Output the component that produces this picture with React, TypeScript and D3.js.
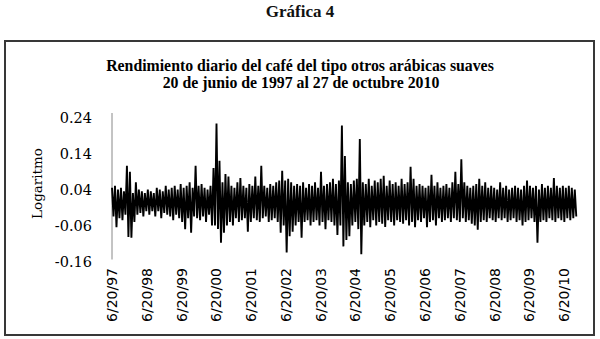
import React from "react";
import * as d3 from "d3";

// Serie: rendimiento diario (logaritmo), leído de la gráfica como máximos y mínimos
// por tramos iguales de tiempo entre la fecha inicial y la final.
const fechaInicio = "1997-06-20";
const fechaFin = "2010-10-27";

const altos: number[] = [
  0.045, 0.05, 0.04, 0.045, 0.035, 0.106, 0.089, 0.03, 0.06, 0.04,
  0.035, 0.03, 0.04, 0.035, 0.03, 0.045, 0.04, 0.035, 0.05, 0.04,
  0.045, 0.05, 0.04, 0.055, 0.045, 0.05, 0.06, 0.045, 0.106, 0.05,
  0.055, 0.045, 0.04, 0.05, 0.1, 0.223, 0.12, 0.06, 0.083, 0.076,
  0.05, 0.045, 0.06, 0.072, 0.05, 0.045, 0.055, 0.05, 0.076, 0.05,
  0.106, 0.05, 0.045, 0.055, 0.05, 0.06, 0.065, 0.092, 0.065, 0.07,
  0.06, 0.05, 0.055, 0.05, 0.06, 0.045, 0.055, 0.05, 0.06, 0.045,
  0.089, 0.05, 0.055, 0.06, 0.07, 0.055, 0.065, 0.218, 0.133, 0.06,
  0.055, 0.065, 0.07, 0.18, 0.06, 0.055, 0.07, 0.05, 0.065, 0.06,
  0.07, 0.078, 0.05, 0.065, 0.055, 0.06, 0.05, 0.07, 0.055, 0.06,
  0.103, 0.07, 0.05, 0.055, 0.05, 0.045, 0.05, 0.081, 0.05, 0.06,
  0.045, 0.05, 0.055, 0.045, 0.06, 0.089, 0.055, 0.124, 0.06, 0.05,
  0.045, 0.05, 0.055, 0.07, 0.05, 0.06, 0.045, 0.05, 0.045, 0.04,
  0.06, 0.045, 0.05, 0.04, 0.045, 0.05, 0.045, 0.04, 0.05, 0.065,
  0.05, 0.045, 0.05, 0.04, 0.055, 0.045, 0.05, 0.045, 0.072, 0.05,
  0.045, 0.05, 0.045, 0.05, 0.045, 0.04,
];

const bajos: number[] = [
  -0.035, -0.065, -0.04, -0.045, -0.03, -0.092, -0.094, -0.05, -0.03, -0.025,
  -0.035, -0.02, -0.03, -0.02, -0.035, -0.02, -0.04, -0.025, -0.03, -0.035,
  -0.045, -0.03, -0.04, -0.05, -0.07, -0.04, -0.08, -0.035, -0.04, -0.045,
  -0.035, -0.05, -0.03, -0.06, -0.06, -0.07, -0.108, -0.08, -0.06, -0.05,
  -0.06, -0.04, -0.05, -0.045, -0.04, -0.077, -0.05, -0.04, -0.045, -0.05,
  -0.04, -0.035, -0.05, -0.045, -0.04, -0.05, -0.08, -0.06, -0.135, -0.09,
  -0.077, -0.06, -0.05, -0.094, -0.05, -0.045, -0.06, -0.05, -0.045, -0.06,
  -0.05, -0.07, -0.045, -0.05, -0.06, -0.086, -0.06, -0.118, -0.1, -0.09,
  -0.06, -0.05, -0.07, -0.14, -0.06, -0.05, -0.065, -0.045, -0.06, -0.05,
  -0.055, -0.064, -0.045, -0.05, -0.06, -0.045, -0.05, -0.055, -0.045, -0.06,
  -0.05, -0.065, -0.045, -0.05, -0.04, -0.065, -0.05, -0.045, -0.06, -0.04,
  -0.05, -0.045, -0.04, -0.05, -0.04, -0.045, -0.05, -0.04, -0.05, -0.045,
  -0.055, -0.06, -0.072, -0.05, -0.045, -0.05, -0.04, -0.045, -0.05, -0.04,
  -0.045, -0.04, -0.05, -0.045, -0.04, -0.05, -0.045, -0.06, -0.05, -0.045,
  -0.04, -0.05, -0.108, -0.05, -0.045, -0.05, -0.04, -0.045, -0.05, -0.04,
  -0.045, -0.05, -0.04, -0.045, -0.04, -0.035,
];

const etiquetasX: string[] = [
  "6/20/97", "6/20/98", "6/20/99", "6/20/00", "6/20/01", "6/20/02", "6/20/03",
  "6/20/04", "6/20/05", "6/20/06", "6/20/07", "6/20/08", "6/20/09", "6/20/10",
];

const ticksY: number[] = [0.24, 0.14, 0.04, -0.06, -0.16];

const titulo = "Gráfica 4";
const subtitulo1 = "Rendimiento diario del café del tipo otros arábicas suaves";
const subtitulo2 = "20 de junio de 1997 al 27 de octubre 2010";
const tituloEjeY = "Logaritmo";

export default function App() {
  const W = 600;
  const H = 339;
  const parseISO = d3.timeParse("%Y-%m-%d");
  const parseTick = d3.timeParse("%m/%d/%y");
  const t0 = parseISO(fechaInicio) as Date;
  const t1 = parseISO(fechaFin) as Date;
  const tickDates = etiquetasX.map((s) => parseTick(s) as Date);

  const x = d3
    .scaleTime()
    .domain([tickDates[0], tickDates[tickDates.length - 1]])
    .range([112, 564]);
  const y = d3.scaleLinear().domain([-0.16, 0.24]).range([261.5, 117.5]);

  const n = altos.length;
  const total = 2 * n - 1;
  const pts: { t: Date; v: number }[] = [];
  for (let k = 0; k < 2 * n; k++) {
    const t = new Date(t0.getTime() + ((t1.getTime() - t0.getTime()) * k) / total);
    const v = k % 2 === 0 ? altos[k / 2] : bajos[(k - 1) / 2];
    pts.push({ t, v });
  }
  const line = d3
    .line<{ t: Date; v: number }>()
    .x((d) => x(d.t))
    .y((d) => y(d.v));

  const x0 = x(t0);
  const [yBottom, yTop] = y.range();

  return (
    <svg
      width={W}
      height={H}
      style={{ position: "absolute", left: 0, top: 0, background: "#fff" }}
    >
      <rect x={0} y={0} width={W} height={H} fill="#fff" />
      <text
        x={300}
        y={17}
        textAnchor="middle"
        fontFamily="Liberation Serif"
        fontWeight="bold"
        fontSize={17}
        fill="#111"
      >
        {titulo}
      </text>
      <rect x={5} y={41} width={589} height={294} fill="#fff" stroke="#383838" strokeWidth={2} />
      <text
        x={300}
        y={71}
        textAnchor="middle"
        fontFamily="Liberation Serif"
        fontWeight="bold"
        fontSize={15.8}
        fill="#000"
      >
        {subtitulo1}
      </text>
      <text
        x={301}
        y={88}
        textAnchor="middle"
        fontFamily="Liberation Serif"
        fontWeight="bold"
        fontSize={15.8}
        fill="#000"
      >
        {subtitulo2}
      </text>

      {/* eje Y */}
      <line x1={x0} x2={x0} y1={yTop - 4.5} y2={yBottom - 2} stroke="#888" strokeWidth={1} />
      {ticksY.map((v) => (
        <text
          key={v}
          x={92}
          y={y(v)}
          dy="0.36em"
          textAnchor="end"
          fontFamily="DejaVu Serif"
          fontSize={14.5}
          fill="#000"
        >
          {v.toFixed(2)}
        </text>
      ))}
      <text
        transform={`translate(42,${(yTop + yBottom) / 2 - 6}) rotate(-90)`}
        textAnchor="middle"
        fontFamily="DejaVu Serif"
        fontSize={13.5}
        fill="#000"
      >
        {tituloEjeY}
      </text>

      {/* serie */}
      <path
        d={line(pts) || ""}
        fill="none"
        stroke="#000"
        strokeWidth={1.9}
        strokeLinejoin="bevel"
      />

      {/* etiquetas X */}
      {etiquetasX.map((s, i) => (
        <text
          key={s}
          transform={`translate(${x(tickDates[i])},268) rotate(-90)`}
          dy="0.36em"
          textAnchor="end"
          fontFamily="DejaVu Sans"
          fontSize={14}
          fill="#000"
        >
          {s}
        </text>
      ))}
    </svg>
  );
}
